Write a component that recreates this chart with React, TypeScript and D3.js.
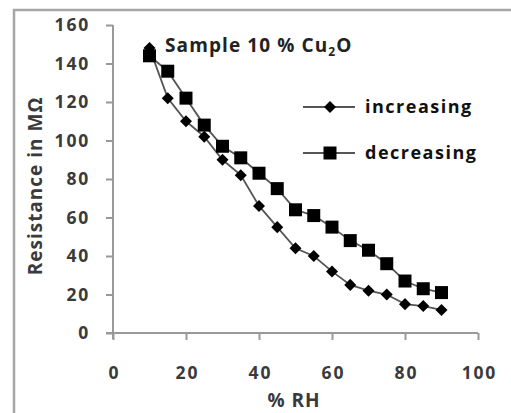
import React, { useEffect, useRef } from "react";
import * as d3 from "d3";

const rh = [10, 15, 20, 25, 30, 35, 40, 45, 50, 55, 60, 65, 70, 75, 80, 85, 90];
const increasing = [148, 122, 110, 102, 90, 82, 66, 55, 44, 40, 32, 25, 22, 20, 15, 14, 12];
const decreasing = [144, 136, 122, 108, 97, 91, 83, 75, 64, 61, 55, 48, 43, 36, 27, 23, 21];
const xTicks = [0, 20, 40, 60, 80, 100];
const yTicks = [0, 20, 40, 60, 80, 100, 120, 140, 160];

const W = 511;
const H = 413;
const FONT = "'Open Sans', sans-serif";

const App = () => {
  const svgRef = useRef<SVGSVGElement>(null);

  useEffect(() => {
    const svg = d3.select(svgRef.current);
    svg.selectAll("*").remove();

    const x = d3.scaleLinear().domain([0, 100]).range([113, 478]);
    const y = d3.scaleLinear().domain([0, 160]).range([333, 25]);

    // outer frame
    svg
      .append("rect")
      .attr("x", 14)
      .attr("y", 10)
      .attr("width", 520)
      .attr("height", 430)
      .attr("fill", "none")
      .attr("stroke", "#a6a6a6")
      .attr("stroke-width", 2.5);

    const yAxis = svg
      .append("g")
      .attr("transform", `translate(${x(0)},0)`)
      .call(d3.axisLeft(y).tickValues(yTicks).tickSize(7).tickSizeOuter(0).tickPadding(16));
    yAxis.select(".domain").attr("stroke", "#999").attr("stroke-width", 2).attr("d", `M0,${y(0) + 6}V${y(160)}`);
    yAxis.selectAll("line").attr("stroke", "#999").attr("stroke-width", 2);
    yAxis
      .selectAll("text")
      .attr("font-family", FONT)
      .attr("font-weight", 700)
      .attr("font-size", 17.5)
      .attr("letter-spacing", 1.8)
      .attr("fill", "#3a3a3a");

    const xAxis = svg
      .append("g")
      .attr("transform", `translate(0,${y(0)})`)
      .call(d3.axisBottom(x).tickValues(xTicks).tickSize(7).tickSizeOuter(0).tickPadding(27));
    xAxis.select(".domain").attr("stroke", "#999").attr("stroke-width", 2).attr("d", `M${x(0) - 7},0H${x(100)}`);
    xAxis.selectAll("line").attr("stroke", "#999").attr("stroke-width", 2);
    xAxis
      .selectAll("text")
      .attr("font-family", FONT)
      .attr("font-weight", 700)
      .attr("font-size", 17.5)
      .attr("letter-spacing", 1.8)
      .attr("dx", 0.9)
      .attr("fill", "#3a3a3a");

    svg
      .append("text")
      .attr("x", 294)
      .attr("y", 407)
      .attr("text-anchor", "middle")
      .attr("font-family", FONT)
      .attr("font-weight", 700)
      .attr("font-size", 19)
      .attr("letter-spacing", 1)
      .attr("fill", "#3a3a3a")
      .text("% RH");

    svg
      .append("text")
      .attr("transform", `translate(42,186) rotate(-90)`)
      .attr("text-anchor", "middle")
      .attr("font-family", FONT)
      .attr("font-weight", 700)
      .attr("font-size", 19)
      .attr("letter-spacing", 1)
      .attr("fill", "#3a3a3a")
      .text("Resistance in MΩ");

    const line = d3
      .line<number>()
      .x((_, i) => x(rh[i]))
      .y((d) => y(d));

    const diamond = d3.symbol().type(d3.symbolDiamond2).size(92);
    const square = d3.symbol().type(d3.symbolSquare2).size(215);

    svg
      .append("path")
      .attr("d", line(decreasing))
      .attr("fill", "none")
      .attr("stroke", "#555")
      .attr("stroke-width", 1.8);
    svg
      .append("path")
      .attr("d", line(increasing))
      .attr("fill", "none")
      .attr("stroke", "#555")
      .attr("stroke-width", 1.8);

    svg
      .selectAll(".sq")
      .data(decreasing)
      .join("path")
      .attr("class", "sq")
      .attr("transform", (d, i) => `translate(${x(rh[i])},${y(d)})`)
      .attr("d", square() as string)
      .attr("fill", "#000");

    svg
      .selectAll(".dm")
      .data(increasing)
      .join("path")
      .attr("class", "dm")
      .attr("transform", (d, i) => `translate(${x(rh[i])},${y(d)})`)
      .attr("d", diamond() as string)
      .attr("fill", "#000");

    // title
    const title = svg
      .append("text")
      .attr("x", 165)
      .attr("y", 52)
      .attr("font-family", FONT)
      .attr("font-weight", 700)
      .attr("font-size", 19)
      .attr("letter-spacing", 1.1)
      .attr("fill", "#222");
    title.append("tspan").text("Sample 10 % Cu");
    title.append("tspan").attr("font-size", 12).attr("dy", 4).text("2");
    title.append("tspan").attr("dy", -4).text("O");

    // legend
    const legend = [
      { label: "increasing", sym: diamond, yy: 107 },
      { label: "decreasing", sym: square, yy: 153 },
    ];
    legend.forEach((l) => {
      svg
        .append("line")
        .attr("x1", 303)
        .attr("x2", 355)
        .attr("y1", l.yy)
        .attr("y2", l.yy)
        .attr("stroke", "#555")
        .attr("stroke-width", 1.8);
      svg
        .append("path")
        .attr("transform", `translate(330,${l.yy})`)
        .attr("d", l.sym() as string)
        .attr("fill", "#000");
      svg
        .append("text")
        .attr("x", 365)
        .attr("y", l.yy + 6)
        .attr("font-family", FONT)
        .attr("font-weight", 700)
        .attr("font-size", 18)
        .attr("letter-spacing", 1.5)
        .attr("fill", "#111")
        .text(l.label);
    });
  }, []);

  return (
    <svg
      ref={svgRef}
      width={W}
      height={H}
      style={{ position: "absolute", left: 0, top: 0, background: "#fff" }}
    />
  );
};

export default App;
